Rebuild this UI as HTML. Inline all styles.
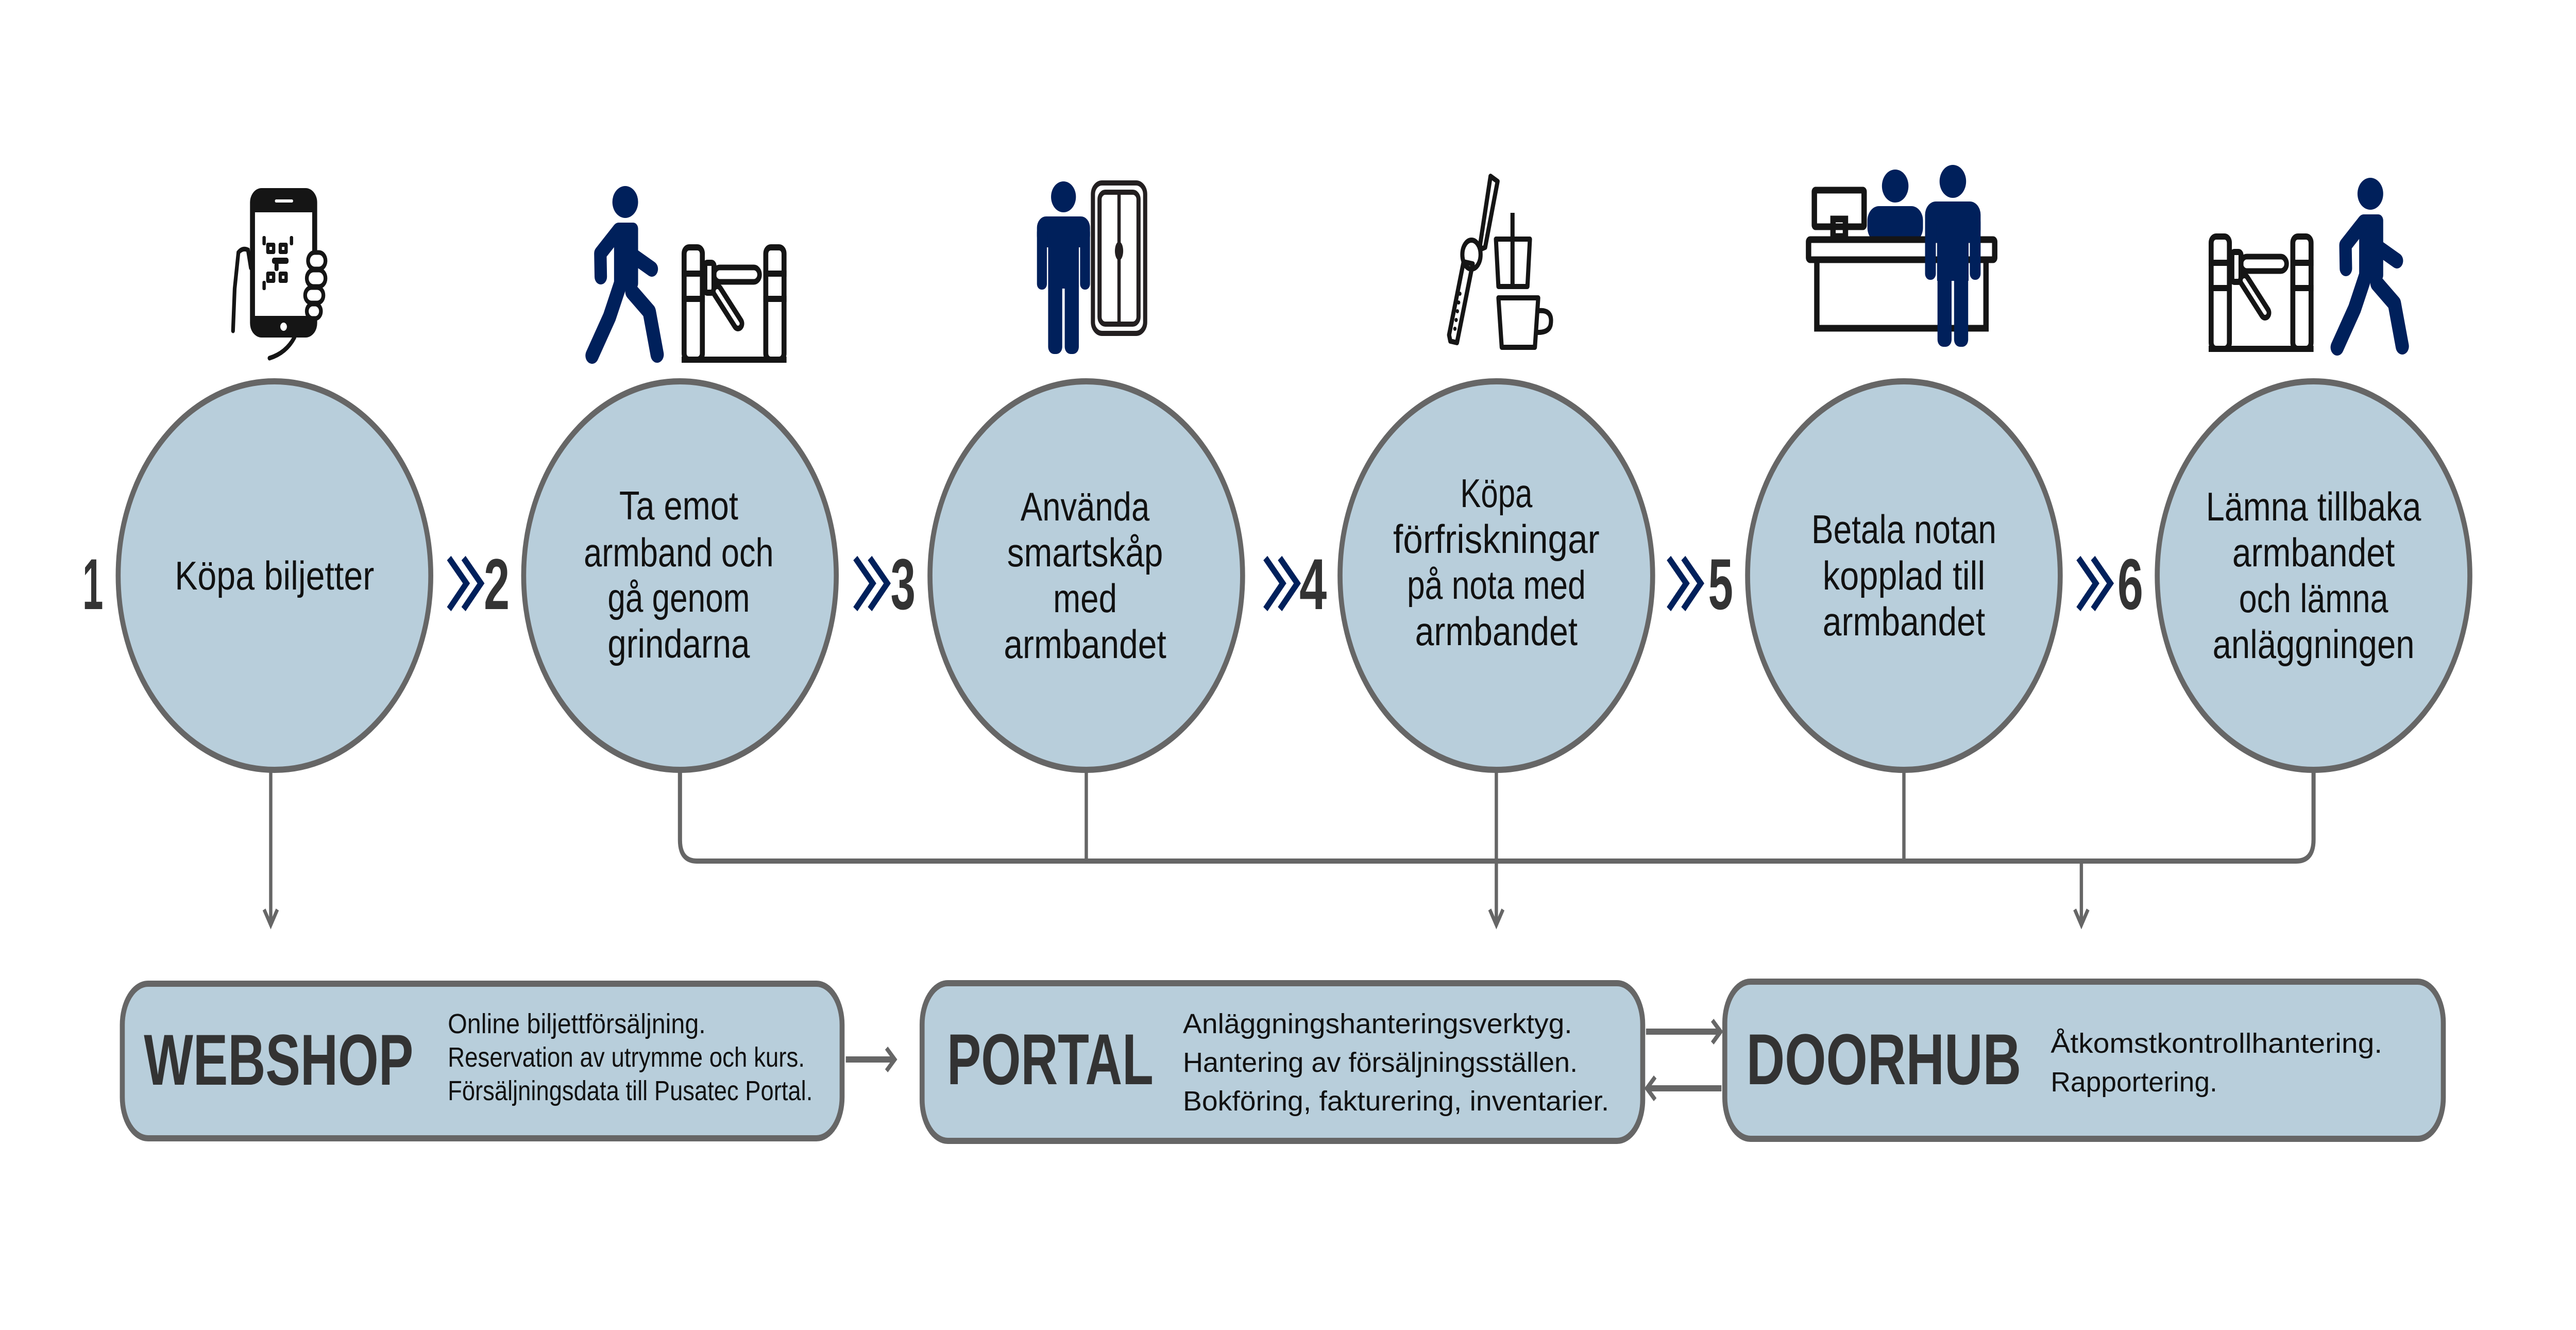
<!DOCTYPE html>
<html><head><meta charset="utf-8"><style>
html,body{margin:0;padding:0;background:#fff;width:100%;height:100%;overflow:hidden;}
svg{display:block;width:100vw;height:100vh;}
</style></head><body>
<svg viewBox="0 0 6213 2581" preserveAspectRatio="none" xmlns="http://www.w3.org/2000/svg" font-family="'Liberation Sans', sans-serif">
<defs>
  <g id="walker">
    <circle cx="1508" cy="392" r="31" fill="#00205b"/>
    <rect x="1481" y="432" width="58" height="130" rx="12" fill="#00205b"/>
    <polyline points="1492,447 1448,492 1449,537" fill="none" stroke="#00205b" stroke-width="30" stroke-linecap="round" stroke-linejoin="round"/>
    <polyline points="1530,498 1572,522" fill="none" stroke="#00205b" stroke-width="30" stroke-linecap="round"/>
    <polyline points="1496,552 1470,615 1428,690" fill="none" stroke="#00205b" stroke-width="32" stroke-linecap="round" stroke-linejoin="round"/>
    <polyline points="1524,566 1566,605 1585,688" fill="none" stroke="#00205b" stroke-width="32" stroke-linecap="round" stroke-linejoin="round"/>
  </g>
  <g id="gate" fill="none" stroke="#151515" stroke-width="12">
    <rect x="1650" y="480" width="44" height="218" rx="12"/>
    <rect x="1847" y="480" width="44" height="218" rx="12"/>
    <line x1="1644" y1="531" x2="1700" y2="531"/>
    <line x1="1644" y1="580" x2="1700" y2="580"/>
    <line x1="1841" y1="531" x2="1897" y2="531"/>
    <line x1="1841" y1="580" x2="1897" y2="580"/>
    <line x1="1644" y1="698" x2="1897" y2="698"/>
    <rect x="1700" y="510" width="22" height="58" rx="6"/>
    <rect x="1722" y="519" width="110" height="28" rx="14" stroke-width="11"/>
    <line x1="1730" y1="565" x2="1780" y2="628" stroke-width="30" stroke-linecap="round"/>
    <line x1="1730" y1="565" x2="1780" y2="628" stroke="#fff" stroke-width="8" stroke-linecap="round"/>
  </g>
</defs>

<g>
  <rect x="603" y="365" width="162" height="290" rx="28" fill="#151515"/>
  <rect x="615" y="412" width="138" height="201" fill="#fff"/>
  <rect x="663" y="387" width="44" height="6" rx="3" fill="#fff"/>
  <circle cx="684" cy="634" r="8" fill="#fff"/>
  <g fill="#151515">
    <rect x="642" y="471" width="22" height="22" rx="4"/><rect x="672" y="471" width="22" height="22" rx="4"/>
    <rect x="642" y="527" width="22" height="22" rx="4"/><rect x="672" y="527" width="22" height="22" rx="4"/>
    <rect x="656" y="500" width="40" height="12" rx="5"/><rect x="662" y="510" width="10" height="16" rx="4"/>
    <rect x="633" y="458" width="8" height="18" rx="3"/><rect x="633" y="545" width="8" height="18" rx="3"/>
    <rect x="699" y="458" width="8" height="18" rx="3"/>
  </g>
  <g fill="#fff"><rect x="650" y="479" width="6" height="6"/><rect x="680" y="479" width="6" height="6"/><rect x="650" y="535" width="6" height="6"/><rect x="680" y="535" width="6" height="6"/></g>
  <path d="M562,642 L566,560 L575,490 Q585,480 598,485 L605,520" fill="none" stroke="#151515" stroke-width="9" stroke-linecap="round"/>
  <path d="M650,695 Q690,685 710,655" fill="none" stroke="#151515" stroke-width="9" stroke-linecap="round"/>
  <g fill="#fff" stroke="#151515" stroke-width="9">
    <rect x="743" y="490" width="42" height="32" rx="16"/>
    <rect x="740" y="524" width="45" height="32" rx="16"/>
    <rect x="736" y="558" width="44" height="30" rx="15"/>
    <rect x="740" y="590" width="34" height="28" rx="14"/>
  </g>
</g>

<use href="#walker"/>
<use href="#gate"/>

<g fill="#00205b">
  <ellipse cx="2565" cy="382" rx="30" ry="30"/>
  <rect x="2501" y="420" width="128" height="60" rx="22"/>
  <rect x="2501" y="440" width="24" height="122" rx="11"/>
  <rect x="2605" y="440" width="24" height="122" rx="11"/>
  <rect x="2528" y="450" width="74" height="110"/>
  <rect x="2528" y="540" width="34" height="147" rx="14"/>
  <rect x="2568" y="540" width="34" height="147" rx="14"/>
</g>
<g fill="none" stroke="#231f20" stroke-width="10">
  <rect x="2636" y="355" width="126" height="292" rx="22"/>
  <rect x="2652" y="373" width="94" height="256" rx="14"/>
  <line x1="2699" y1="378" x2="2699" y2="624" stroke-width="8"/>
</g>
<ellipse cx="2699" cy="487" rx="10" ry="18" fill="#231f20"/>

<g fill="none" stroke="#151515" stroke-width="10" stroke-linejoin="round">
  <polygon points="3595,342 3612,352 3582,480 3570,484 3570,474"/>
  <polygon points="3530,508 3552,512 3514,665 3498,662 3495,650"/>
  <ellipse cx="3549" cy="494" rx="22" ry="28"/>
  <path d="M3608,464 L3690,464 L3684,556 L3614,556 Z"/>
  <line x1="3648" y1="413" x2="3648" y2="552"/>
  <path d="M3614,578 L3710,578 L3702,674 L3622,674 Z"/>
  <path d="M3710,603 Q3746,600 3740,630 Q3736,646 3706,645"/>
</g>
<g fill="#151515"><circle cx="3521" cy="570" r="4"/><circle cx="3518" cy="587" r="4"/><circle cx="3515" cy="604" r="4"/><circle cx="3512" cy="621" r="4"/><circle cx="3509" cy="638" r="4"/></g>

<g fill="none" stroke="#151515" stroke-width="13">
  <rect x="4376" y="369" width="120" height="71" rx="3"/>
  <rect x="4421" y="425" width="30" height="34"/>
</g>
<g fill="#00205b">
  <circle cx="4571" cy="361" r="32"/>
  <rect x="4504" y="400" width="134" height="70" rx="28"/>
</g>
<g fill="none" stroke="#151515" stroke-width="13">
  <rect x="4362" y="465" width="449" height="39" rx="4"/>
  <rect x="4382" y="504" width="408" height="133"/>
</g>
<g fill="#00205b">
  <circle cx="4710" cy="352" r="32"/>
  <rect x="4643" y="391" width="134" height="80" rx="26"/>
  <rect x="4643" y="420" width="26" height="123" rx="12"/>
  <rect x="4751" y="420" width="26" height="123" rx="12"/>
  <rect x="4672" y="430" width="76" height="115"/>
  <rect x="4673" y="520" width="34" height="153" rx="14"/>
  <rect x="4713" y="520" width="34" height="153" rx="14"/>
</g>

<use href="#gate" transform="translate(3683,-21)"/>
<use href="#walker" transform="translate(4209,-16)"/>

<g fill="none" stroke="#666" stroke-width="8">
  <line x1="653" y1="1490" x2="653" y2="1790"/>
  <path d="M1640,1490 L1640,1630 Q1640,1671 1681,1671 L5538,1671 Q5580,1671 5580,1629 L5580,1490" stroke-width="10"/>
  <line x1="2620" y1="1490" x2="2620" y2="1671"/>
  <line x1="3609" y1="1490" x2="3609" y2="1790"/>
  <line x1="4592" y1="1490" x2="4592" y2="1671"/>
  <line x1="5020" y1="1671" x2="5020" y2="1790"/>
  <polyline points="637,1765 653,1795 669,1765"/>
  <polyline points="3593,1765 3609,1795 3625,1765"/>
  <polyline points="5004,1765 5020,1795 5036,1765"/>
  <line x1="2040" y1="2056" x2="2154" y2="2056" stroke-width="12"/>
  <polyline points="2138,2034 2158,2056 2138,2078" stroke-width="9"/>
  <line x1="3970" y1="2002" x2="4146" y2="2002" stroke-width="12"/>
  <polyline points="4130,1980 4150,2002 4130,2024" stroke-width="9"/>
  <line x1="4152" y1="2112" x2="3976" y2="2112" stroke-width="12"/>
  <polyline points="3992,2090 3972,2112 3992,2134" stroke-width="9"/>
</g>

<g fill="#b8cedb" stroke="#666" stroke-width="12">
  <circle cx="662" cy="1117" r="377"/>
  <circle cx="1640" cy="1117" r="377"/>
  <circle cx="2620" cy="1117" r="377"/>
  <circle cx="3609" cy="1117" r="377"/>
  <circle cx="4592" cy="1117" r="377"/>
  <circle cx="5580" cy="1117" r="377"/>
</g>

<g fill="none" stroke="#00205b" stroke-width="13">
  <polyline points="1083,1083 1125,1132 1083,1182"/><polyline points="1118,1083 1160,1132 1118,1182"/>
  <polyline points="2063,1083 2105,1132 2063,1182"/><polyline points="2098,1083 2140,1132 2098,1182"/>
  <polyline points="3052,1083 3094,1132 3052,1182"/><polyline points="3087,1083 3129,1132 3087,1182"/>
  <polyline points="4025,1083 4067,1132 4025,1182"/><polyline points="4060,1083 4102,1132 4060,1182"/>
  <polyline points="5013,1083 5055,1132 5013,1182"/><polyline points="5048,1083 5090,1132 5048,1182"/>
</g>

<g font-weight="bold" font-size="140" fill="#333" text-anchor="middle">
  <text x="224" y="1182" textLength="50" lengthAdjust="spacingAndGlyphs">1</text>
  <text x="1198" y="1182" textLength="62" lengthAdjust="spacingAndGlyphs">2</text>
  <text x="2178" y="1182" textLength="60" lengthAdjust="spacingAndGlyphs">3</text>
  <text x="3167" y="1182" textLength="66" lengthAdjust="spacingAndGlyphs">4</text>
  <text x="4150" y="1182" textLength="60" lengthAdjust="spacingAndGlyphs">5</text>
  <text x="5138" y="1182" textLength="62" lengthAdjust="spacingAndGlyphs">6</text>
</g>

<g font-size="78" fill="#111" text-anchor="middle">
  <text x="662" y="1144" textLength="481" lengthAdjust="spacingAndGlyphs">Köpa biljetter</text>
  <text x="1637" y="1008" textLength="287" lengthAdjust="spacingAndGlyphs">Ta emot</text>
  <text x="1637" y="1099" textLength="458" lengthAdjust="spacingAndGlyphs">armband och</text>
  <text x="1637" y="1187" textLength="343" lengthAdjust="spacingAndGlyphs">gå genom</text>
  <text x="1637" y="1276" textLength="343" lengthAdjust="spacingAndGlyphs">grindarna</text>
  <text x="2617" y="1010" textLength="311" lengthAdjust="spacingAndGlyphs">Använda</text>
  <text x="2617" y="1099" textLength="376" lengthAdjust="spacingAndGlyphs">smartskåp</text>
  <text x="2617" y="1188" textLength="154" lengthAdjust="spacingAndGlyphs">med</text>
  <text x="2617" y="1277" textLength="392" lengthAdjust="spacingAndGlyphs">armbandet</text>
  <text x="3609" y="984" textLength="174" lengthAdjust="spacingAndGlyphs">Köpa</text>
  <text x="3609" y="1073" textLength="498" lengthAdjust="spacingAndGlyphs">förfriskningar</text>
  <text x="3609" y="1162" textLength="431" lengthAdjust="spacingAndGlyphs">på nota med</text>
  <text x="3609" y="1252" textLength="392" lengthAdjust="spacingAndGlyphs">armbandet</text>
  <text x="4592" y="1054" textLength="446" lengthAdjust="spacingAndGlyphs">Betala notan</text>
  <text x="4592" y="1144" textLength="392" lengthAdjust="spacingAndGlyphs">kopplad till</text>
  <text x="4592" y="1233" textLength="392" lengthAdjust="spacingAndGlyphs">armbandet</text>
  <text x="5580" y="1010" textLength="519" lengthAdjust="spacingAndGlyphs">Lämna tillbaka</text>
  <text x="5580" y="1099" textLength="392" lengthAdjust="spacingAndGlyphs">armbandet</text>
  <text x="5580" y="1188" textLength="360" lengthAdjust="spacingAndGlyphs">och lämna</text>
  <text x="5580" y="1277" textLength="487" lengthAdjust="spacingAndGlyphs">anläggningen</text>
</g>

<g fill="#b8cedb" stroke="#666" stroke-width="12">
  <rect x="295" y="1909" width="1736" height="300" rx="62" ry="80"/>
  <rect x="2224" y="1908" width="1738" height="306" rx="62" ry="80"/>
  <rect x="4160" y="1905" width="1733" height="305" rx="62" ry="80"/>
</g>
<g font-weight="bold" font-size="140" fill="#333">
  <text x="347" y="2105" textLength="650" lengthAdjust="spacingAndGlyphs">WEBSHOP</text>
  <text x="2284" y="2104" textLength="498" lengthAdjust="spacingAndGlyphs">PORTAL</text>
  <text x="4212" y="2104" textLength="663" lengthAdjust="spacingAndGlyphs">DOORHUB</text>
</g>
<g font-size="54" fill="#111">
  <text x="1080" y="2005" textLength="622" lengthAdjust="spacingAndGlyphs">Online biljettförsäljning.</text>
  <text x="1080" y="2070" textLength="861" lengthAdjust="spacingAndGlyphs">Reservation av utrymme och kurs.</text>
  <text x="1080" y="2135" textLength="880" lengthAdjust="spacingAndGlyphs">Försäljningsdata till Pusatec Portal.</text>
  <text x="2853" y="2005" textLength="939" lengthAdjust="spacingAndGlyphs">Anläggningshanteringsverktyg.</text>
  <text x="2853" y="2080" textLength="952" lengthAdjust="spacingAndGlyphs">Hantering av försäljningsställen.</text>
  <text x="2853" y="2155" textLength="1028" lengthAdjust="spacingAndGlyphs">Bokföring, fakturering, inventarier.</text>
  <text x="4946" y="2043" textLength="800" lengthAdjust="spacingAndGlyphs">Åtkomstkontrollhantering.</text>
  <text x="4946" y="2118" textLength="402" lengthAdjust="spacingAndGlyphs">Rapportering.</text>
</g>
</svg>
</body></html>
